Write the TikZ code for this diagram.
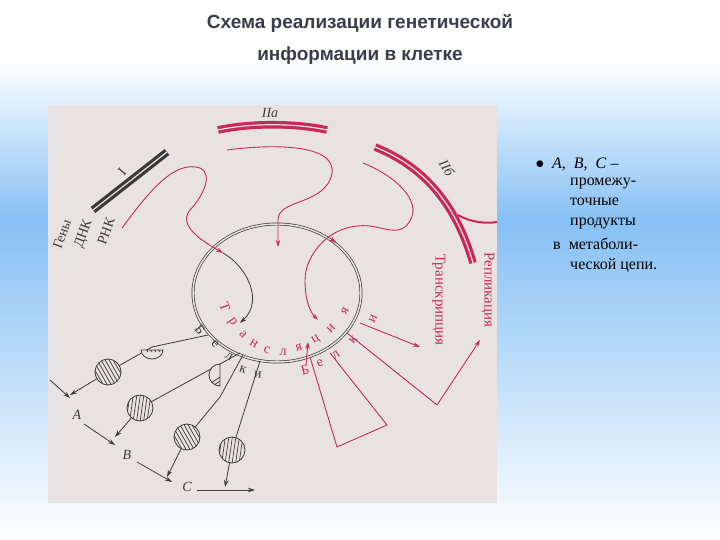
\documentclass[tikz,border=0pt]{standalone}
\usepackage{fontspec}
\setmainfont{Liberation Serif}
\newfontfamily\hsans{Liberation Sans}
\usetikzlibrary{arrows.meta}
\definecolor{rd}{HTML}{C8285A}
\definecolor{ink}{HTML}{3A3A3A}
\definecolor{paper}{HTML}{E8E3E2}
\definecolor{bl}{HTML}{86C0F4}
\definecolor{tt}{HTML}{3C3C4C}
\tikzset{
 rl/.style={rd,line width=0.9pt},
 bk/.style={ink,line width=0.8pt},
 dbl/.style={line width=3.2pt,double=paper,double distance=1.2pt},
 arr/.style={-{Stealth[length=7pt,width=4.5pt]}},
 lr/.style={rd,font=\fontsize{14}{16}\selectfont},
 lk/.style={ink,font=\fontsize{14}{16}\selectfont},
 hat/.style={ink,line width=0.8pt,fill=paper},
}
\begin{document}
\begin{tikzpicture}[x=1pt,y=-1pt]
\useasboundingbox (0,0) rectangle (720,540);
\shade[top color=white,bottom color=bl] (0,60) rectangle (720,220);
\fill[white] (0,0) rectangle (720,60.5);
\shade[top color=bl,bottom color=white] (0,220) rectangle (720,540);
\node[font=\hsans\bfseries\fontsize{19}{32}\selectfont,text=tt,align=center] (title) at (360,39) {Схема реализации генетической\\информации в клетке};
\fill[paper] (48,105) rectangle (497,503);
% circle
\draw[bk,double=paper,double distance=1.5pt,line width=0.7pt] (277,293) ellipse (84 and 69);
% IIa
\draw[rd,dbl] (218,130) .. controls (250,123) and (295,123) .. (327,130);
\node[lk] (l2a) at (270,113) {\textit{IIа}};
\draw[rl,arr] (227,150) .. controls (280,143) and (345,145) .. (330,180) .. controls (318,205) and (278,200) .. (278,220) -- (278,247);
% I
\draw[ink,dbl] (93,210) -- (167,152);
\node[lk,rotate=50] (l1) at (122,172) {I};
\node[lk,rotate=70] (gen) at (62,234) {Гены};
\node[lk,rotate=70] (dnk) at (84,234) {ДНК};
\node[lk,rotate=70] (rnk) at (106,231) {РНК};
\draw[rl,arr] (122,228) .. controls (150,190) and (175,160) .. (200,168) .. controls (215,175) and (200,200) .. (190,210) .. controls (178,225) and (200,240) .. (223,253);
\draw[bk,arr] (223,253) .. controls (245,265) and (265,300) .. (240,323);
% IIb
\draw[rd,dbl] (375,147) .. controls (420,165) and (455,200) .. (473,263);
\draw[rd,line width=2pt] (458,215) .. controls (470,222) and (485,224) .. (497,222);
\node[lk,rotate=-58] (l2b) at (447,168) {\textit{IIб}};
\draw[rl] (363,163) .. controls (400,178) and (425,205) .. (407,225) .. controls (398,235) and (385,228) .. (370,226) .. controls (330,222) and (305,255) .. (305,280);
\draw[rl,arr] (305,280) .. controls (305,300) and (310,312) .. (318,320);
\draw[rd,-{Stealth[length=7pt,width=4.5pt]}] (330,238) -- (336,243);
\node[lr,font=\fontsize{15}{17}\selectfont,rotate=-90] (trc) at (439,300) {Транскрипция};
\node[lr,font=\fontsize{15}{17}\selectfont,rotate=-90] (rep) at (488,290) {Репликация};
\draw[rl,arr] (360,323) -- (420,347);
\draw[rl] (347,333) -- (437,405);
\draw[rl,arr] (437,405) -- (480,340);
% funnel
\draw[rl] (310,357) -- (337,447) -- (387,425) -- (330,353);
\draw[rl,arr] (306,365) -- (308,342);
% Трансляция
\foreach \t/\x/\y/\r in {Т/225/307/-70,р/232/322/-55,а/243/334/-45,н/254/344/-30,с/267/350/-15,л/283/352/0,я/299/348/15,ц/316/340/30,и/331/329/45,я/345/311/60}
  \node[lr,rotate=\r] at (\x,\y) {\t};
\foreach \t/\x/\y/\r in {Б/200/330/-50,е/215/344/-40,л/229/357/-30,к/243/370/-20,и/258/375/-5}
  \node[lk,rotate=\r] at (\x,\y) {\t};
\foreach \t/\x/\y/\r in {Б/305/370/15,е/320/363/25,л/336/355/35,к/353/340/50,и/373/319/65}
  \node[lr,rotate=\r] at (\x,\y) {\t};
% black protein branches
\draw[bk] (208,335) -- (152,347);
\draw[bk,arr] (108,372) -- (70,395);
\draw[bk] (152,347) -- (108,372);
\draw[bk] (240,353) -- (140,408);
\draw[bk,arr] (140,408) -- (115,437);
\draw[bk] (243,355) -- (220,397) -- (187,437);
\draw[bk,arr] (187,437) -- (167,477);
\draw[bk] (260,361) -- (232,450);
\draw[bk,arr] (232,450) -- (225,487);
\draw[hat] (141,350) arc (180:0:11 and 9) -- cycle;
\begin{scope}\clip (141,350) arc (180:0:11 and 9) -- cycle;
\foreach \k in {-12,-8,...,12} \draw[ink,line width=0.7pt] (152+\k,340) -- (152+\k+8,352);\end{scope}
\draw[hat] (220,386) arc (90:270:11) -- cycle;
\begin{scope}\clip (220,386) arc (90:270:11) -- cycle;
\foreach \k in {-12,-8,...,12} \draw[ink,line width=0.7pt] (208,397+\k) -- (220,397+\k-8);\end{scope}
\foreach \cx/\cy/\a in {108/372/1,140/408/0,187/437/1,232/450/0}{
  \draw[hat] (\cx,\cy) circle (13);
  \begin{scope}\clip (\cx,\cy) circle (13);
  \ifnum\a=1
    \foreach \k in {-16,-12,...,16} \draw[ink,line width=0.7pt] (\cx+\k-8,\cy-14) -- (\cx+\k+8,\cy+14);
  \else
    \foreach \k in {-12,-8.5,...,12} \draw[ink,line width=0.7pt] (\cx+\k+2,\cy-14) -- (\cx+\k-2,\cy+14);
  \fi
  \end{scope}}
% A B C chain
\draw[bk,arr] (50,380) -- (70,398);
\node[lk] (A) at (77,415) {\textit{A}};
\draw[bk,arr] (84,424) -- (115,445);
\node[lk] (B) at (127,455) {\textit{B}};
\draw[bk,arr] (137,462) -- (172,482);
\node[lk] (C) at (187,487) {\textit{C}};
\draw[bk,arr] (197,490) -- (255,490);
% text
\node[anchor=north west,font=\fontsize{16}{20}\selectfont,align=left] (t) at (532,154) {$\bullet$\ \ \textit{A},\ \ \textit{B},\ \ \textit{C} –};
\node[anchor=north west,font=\fontsize{16}{20}\selectfont,align=left,inner sep=0pt] (t2) at (570,178) {промежу-\\точные\\продукты};
\node[anchor=north west,font=\fontsize{16}{20}\selectfont,align=left,inner sep=0pt] (t3) at (553,238) {в\ \ метаболи-\\\hspace*{17pt}ческой цепи.};
\end{tikzpicture}
\end{document}
